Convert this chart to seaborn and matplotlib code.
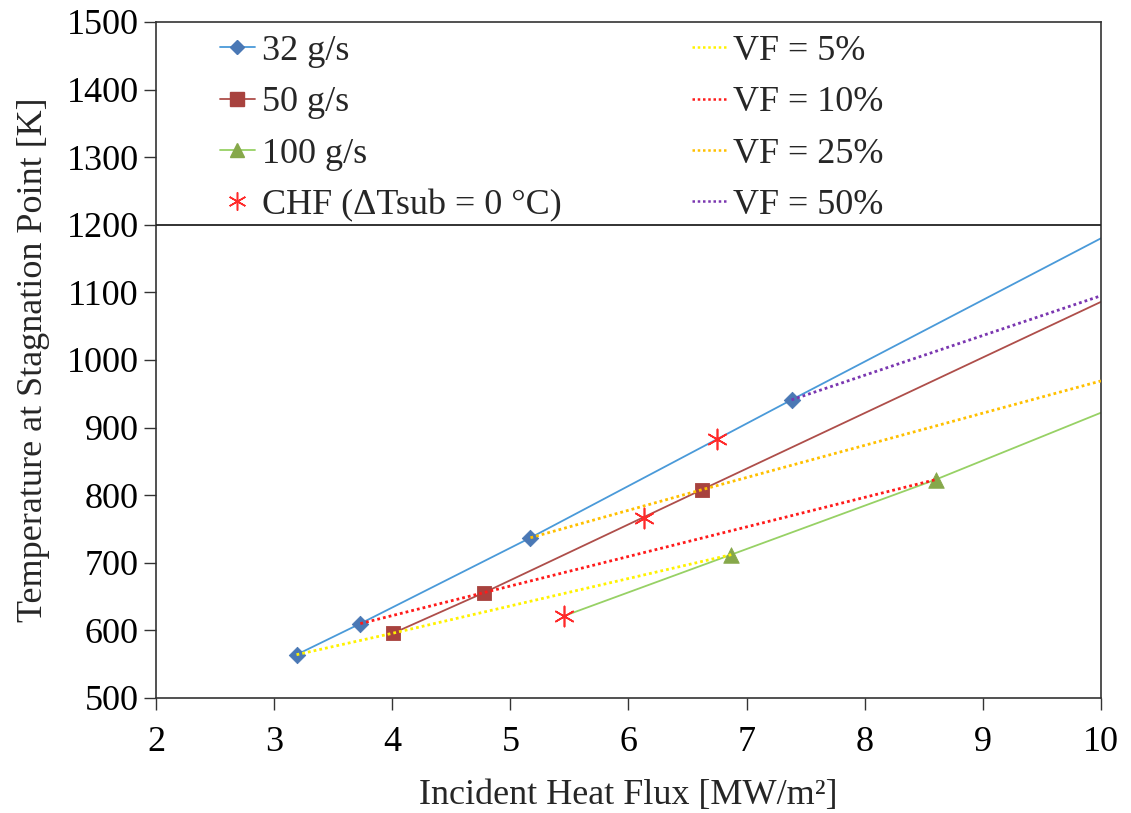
import numpy as np
import pandas as pd
import matplotlib
matplotlib.use("Agg")
import matplotlib.pyplot as plt
import seaborn as sns
from matplotlib.lines import Line2D

# ---------------- data ----------------
vf_labels = ["VF = 5%", "VF = 10%", "VF = 25%", "VF = 50%"]
mass_labels = ["32 g/s", "50 g/s", "100 g/s"]

flux_32 = [3.19, 3.73, 5.17, 7.38]
temp_32 = [564, 610, 737, 941]
flux_50 = [4.01, 4.78, 6.62]
temp_50 = [596, 656, 808]
flux_100 = [6.87, 8.60]
temp_100 = [712, 823]

chf_flux = [5.45, 6.13, 6.75]
chf_temp = [621, 766, 883]

# values where the curves leave the chart at the right edge (10 MW/m2)
edge_flux = 10.0
edge_temp_mass = [1180, 1086, 922]          # 32, 50, 100 g/s
edge_temp_vf = [None, None, 969, 1095]       # VF 5, 10, 25, 50 %

x_ticks = [2, 3, 4, 5, 6, 7, 8, 9, 10]
y_ticks = [500, 600, 700, 800, 900, 1000, 1100, 1200, 1300, 1400, 1500]

# ---------------- style ----------------
sns.set_theme(style="ticks")
plt.rcParams["font.family"] = ["Liberation Serif", "DejaVu Serif"]
plt.rcParams["mathtext.fontset"] = "stix"

FS = 26
mass_line_colors = ["#4A9AD9", "#AE4E4A", "#97D165"]
mass_marker_colors = ["#4A78B5", "#A8423E", "#86A84A"]
mass_markers = ["D", "s", "^"]
mass_marker_sizes = [70, 100, 125]
vf_colors = ["#FFF200", "#FF1A1A", "#FFC000", "#7A36B0"]
chf_color = "#FF2A2A"
chf_marker = (6, 2, 0)

fig = plt.figure(figsize=(11.31, 8.13), dpi=100)
ax = fig.add_axes([0.1379, 0.1415, 0.8356, 0.8315])

mass_flux = [flux_32, flux_50, flux_100]
mass_temp = [temp_32, temp_50, temp_100]

# ---- mass-flow curves (solid) ----
for i, (fx, ty) in enumerate(zip(mass_flux, mass_temp)):
    lx = list(fx) + [edge_flux]
    ly = list(ty) + [edge_temp_mass[i]]
    if i == 2:  # 100 g/s curve starts at its CHF point
        lx = [chf_flux[0]] + lx
        ly = [chf_temp[0]] + ly
    df = pd.DataFrame({"q": lx, "T": ly})
    sns.lineplot(data=df, x="q", y="T", ax=ax, color=mass_line_colors[i],
                 lw=1.3, estimator=None, sort=False, zorder=2)

# ---- mass-flow markers ----
for i, (fx, ty) in enumerate(zip(mass_flux, mass_temp)):
    df = pd.DataFrame({"q": fx, "T": ty})
    sns.scatterplot(data=df, x="q", y="T", ax=ax, marker=mass_markers[i],
                    s=mass_marker_sizes[i], color=mass_marker_colors[i],
                    edgecolor=mass_marker_colors[i], linewidth=0.6, zorder=3)

# ---- void-fraction curves (dotted), through the i-th point of each flow ----
for i, lab in enumerate(vf_labels):
    lx, ly = [], []
    for fx, ty in zip(mass_flux, mass_temp):
        if i < len(fx):
            lx.append(fx[i])
            ly.append(ty[i])
    if edge_temp_vf[i] is not None:
        lx.append(edge_flux)
        ly.append(edge_temp_vf[i])
    df = pd.DataFrame({"q": lx, "T": ly})
    sns.lineplot(data=df, x="q", y="T", ax=ax, color=vf_colors[i], lw=2.0,
                 linestyle=(0, (1, 1.1)), estimator=None, sort=False, zorder=4)

# ---- CHF points ----
df_chf = pd.DataFrame({"q": chf_flux, "T": chf_temp})
sns.scatterplot(data=df_chf, x="q", y="T", ax=ax, marker=chf_marker, s=210,
                color=chf_color, linewidth=1.2, zorder=5)

# legend box lower border
ax.axhline(1200, color="#222222", lw=1.3, zorder=6)

# ---------------- axes ----------------
ax.set_xlim(2, 10)
ax.set_ylim(500, 1500)
ax.set_xticks(x_ticks)
ax.set_yticks(y_ticks)
ax.set_xticklabels([str(v) for v in x_ticks])
ax.set_yticklabels([str(v) for v in y_ticks])
ax.tick_params(axis="both", direction="out", length=8.5, width=1.0,
               color="#333333", labelsize=FS, labelcolor="black")
ax.tick_params(axis="x", pad=12)
ax.tick_params(axis="y", pad=4)
for sp in ax.spines.values():
    sp.set_visible(True)
    sp.set_color("#333333")
    sp.set_linewidth(1.2)

ax.set_xlabel("Incident Heat Flux [MW/m²]", fontsize=FS, labelpad=14)
ax.set_ylabel("Temperature at Stagnation Point [K]", fontsize=FS, labelpad=12)

# ---------------- legend ----------------
handles = []
labels = []
col1 = []
for i, lab in enumerate(mass_labels):
    col1.append((Line2D([0], [0], color=mass_line_colors[i], lw=1.3,
                        marker=mass_markers[i], markersize=[7, 10, 10][i],
                        markerfacecolor=mass_marker_colors[i],
                        markeredgecolor=mass_marker_colors[i]), lab))
col1.append((Line2D([0], [0], color=chf_color, lw=0, marker=chf_marker,
                    markersize=13, markeredgewidth=1.1), "CHF (ΔTsub = 0 °C)"))
col2 = []
for i, lab in enumerate(vf_labels):
    col2.append((Line2D([0], [0], color=vf_colors[i], lw=1.8,
                        linestyle=(0, (1, 1.1))), lab))
for h, l in col1 + col2:
    handles.append(h)
    labels.append(l)

leg = ax.legend(handles, labels, ncol=2, loc="upper left",
                bbox_to_anchor=(0.068, 0.981), frameon=False, fontsize=FS,
                handlelength=0.95, handletextpad=0.2, columnspacing=3.6,
                labelspacing=0.5, borderpad=0, borderaxespad=0)

fig.savefig("out.png", dpi=100)
